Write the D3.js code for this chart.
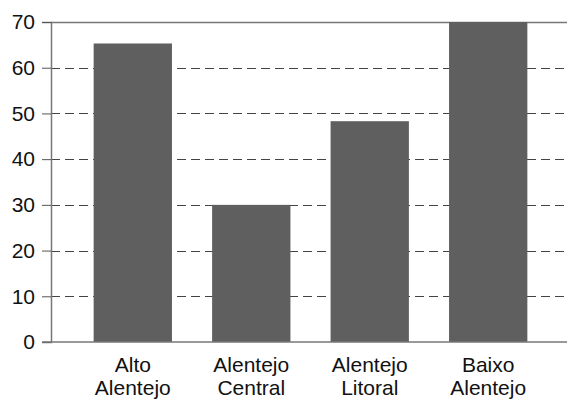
<!DOCTYPE html>
<html>
<head>
<meta charset="utf-8">
<script src="https://cdn.jsdelivr.net/npm/d3@7"></script>
<style>
body { margin: 0; background: white; overflow: hidden; }
svg { display: block; }
svg text { font-family: "Liberation Sans", Arial, sans-serif; }
</style>
</head>
<body>
<div id="chart"></div>
<script>
var svgWidth = 567;
var svgHeight = 401;

var categories = [["Alto", "Alentejo"], ["Alentejo", "Central"], ["Alentejo", "Litoral"], ["Baixo", "Alentejo"]];
var values = [65.3, 30.0, 48.3, 70];
var yTicks = [0, 10, 20, 30, 40, 50, 60, 70];

var plotLeft = 51, plotRight = 570, plotTop = 22, plotBottom = 342;

var svg = d3.select('#chart')
	.append('svg')
	.attr('width', svgWidth)
	.attr('height', svgHeight)

var x = d3.scaleBand()
	.domain(d3.range(categories.length))
	.range([plotLeft, plotRight])
	.paddingInner(0.339)
	.paddingOuter(0.36)

var y = d3.scaleLinear()
	.domain([0, 70])
	.range([plotBottom, plotTop])

// dashed grid
svg.append('g')
	.selectAll('line')
	.data(yTicks.filter(function(d){return d > 0 && d < 70}))
	.enter()
	.append('line')
	.attr('x1', plotLeft)
	.attr('x2', svgWidth)
	.attr('y1', function(d){return Math.round(y(d)) + 0.5})
	.attr('y2', function(d){return Math.round(y(d)) + 0.5})
	.attr('stroke', '#444')
	.attr('stroke-width', 1)
	.attr('stroke-dasharray', '9,5')

// top border line
svg.append('line')
	.attr('x1', plotLeft).attr('x2', svgWidth)
	.attr('y1', Math.round(y(70)) + 0.5).attr('y2', Math.round(y(70)) + 0.5)
	.attr('stroke', '#777')
	.attr('stroke-width', 1.5)

svg.append('g')
	.selectAll('rect')
	.data(values)
	.enter()
	.append('rect')
	.attr('x', function(d, i){return x(i)})
	.attr('width', x.bandwidth())
	.attr('y', function(d){return y(d)})
	.attr('height', function(d){return y(0) - y(d)})
	.attr('fill', '#5f5f5f')

// y axis
var yAxis = svg.append('g')
	.attr('transform', 'translate(' + plotLeft + ',0)')
	.call(d3.axisLeft(y).tickValues(yTicks).tickSize(9).tickPadding(7))
yAxis.select('.domain').attr('stroke', '#777').attr('stroke-width', 1.5)
yAxis.selectAll('.tick line').attr('stroke', '#555')
yAxis.selectAll('.tick text')
	.attr('fill', '#111')
	.style('font-size', '21px')
	.style('font-family', '"Liberation Sans", Arial, sans-serif')

// x baseline
svg.append('line')
	.attr('x1', plotLeft - 9).attr('x2', svgWidth)
	.attr('y1', y(0)).attr('y2', y(0))
	.attr('stroke', '#777')
	.attr('stroke-width', 1.5)

// category labels
var labels = svg.append('g')
	.selectAll('text')
	.data(categories)
	.enter()
	.append('text')
	.attr('x', function(d, i){return x(i) + x.bandwidth() / 2})
	.attr('y', 372)
	.attr('text-anchor', 'middle')
	.attr('fill', '#111')
	.style('font-size', '21px')

labels.selectAll('tspan')
	.data(function(d){return d})
	.enter()
	.append('tspan')
	.attr('x', function(){return this.parentNode.getAttribute('x')})
	.attr('dy', function(d, i){return i === 0 ? 0 : 23})
	.text(function(d){return d})
</script>
</body>
</html>
